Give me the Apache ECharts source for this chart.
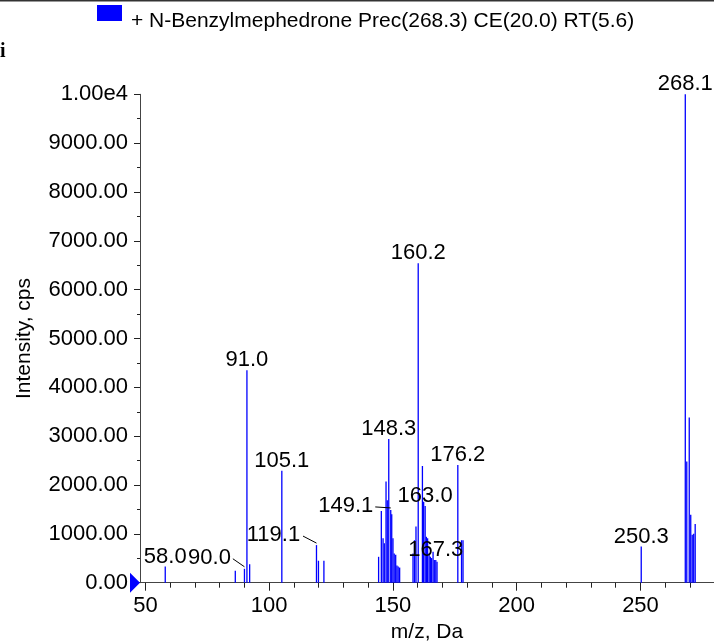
<!DOCTYPE html>
<html>
<head>
<meta charset="utf-8">
<script src="https://cdn.jsdelivr.net/npm/echarts@6/dist/echarts.min.js"></script>
<style>
html,body{margin:0;padding:0;background:#fff;}
#chart{width:714px;height:641px;}
</style>
</head>
<body>
<div id="chart"></div>
<script>
// ---- data ----
const seriesName = '+ N-Benzylmephedrone Prec(268.3) CE(20.0) RT(5.6)';
const peakMz = [
  58.0, 86.3, 90.0, 91.0, 92.1, 105.1, 119.1, 119.9, 122.1,
  144.2, 145.3, 146.0, 146.5, 147.2, 147.7, 148.3, 149.1, 149.5, 150.0, 150.5, 151.1, 151.6, 152.1, 152.7,
  158.1, 158.7, 159.3, 160.2, 161.9, 162.4, 163.0, 163.5, 164.0, 164.6, 165.1, 165.6, 166.2, 166.7, 167.3, 167.8,
  176.2, 177.7, 178.3, 250.3,
  268.1, 268.7, 269.7, 270.3, 270.9, 271.5, 272.1
];
const peakIntensity = [
  330, 245, 285, 4350, 380, 2290, 770, 450, 450,
  530, 1470, 910, 810, 2070, 1690, 2940, 1490, 1400, 910, 600, 570, 350, 330, 310,
  600, 870, 1150, 6540, 2390, 1660, 1570, 940, 910, 600, 530, 505, 635, 465, 465, 430,
  2410, 870, 870, 740,
  10000, 2480, 3380, 1390, 980, 1000, 1200
];
const labelledMz = [58.0, 90.0, 91.0, 105.1, 119.1, 148.3, 149.1, 160.2, 163.0, 167.3, 176.2, 250.3, 268.1];
const xMajorTicks = [50, 100, 150, 200, 250];
const xMinorTicks = [60, 70, 80, 90, 110, 120, 130, 140, 160, 170, 180, 190, 210, 220, 230, 240, 260, 270, 280];
const yMin = 0, yMax = 10000, yStep = 1000;
const xMin = 47.8, xMax = 279.7;

// ---- label layout (styling only) ----
const labelShift = { '90.0': [-35, -1], '119.1': [-43, 0], '149.1': [-45, 6] };
const FONT = '"Liberation Sans", Arial, sans-serif';

const chart = echarts.init(document.getElementById('chart'), null, { renderer: 'canvas' });

const peakData = peakMz.map((m, i) => [m, peakIntensity[i]]);
const labelData = labelledMz.map(m => {
  const i = peakMz.indexOf(m);
  return [m, peakIntensity[i], m.toFixed(1)];
});

function textWidth(t) {
  let w = 0;
  for (const c of t) w += (c === '.') ? 0.278 : 0.556;
  return w * 22;
}

const option = {
  animation: false,
  backgroundColor: '#fff',
  grid: { left: 140, right: 0, top: 94.3, bottom: 58.3, outerBoundsMode: 'none', containLabel: false },
  xAxis: [{
    type: 'value', min: xMin, max: xMax,
    name: 'm/z, Da', nameLocation: 'middle', nameGap: 29,
    nameTextStyle: { fontSize: 21, color: '#000', fontFamily: FONT },
    axisLine: { show: true, lineStyle: { color: '#444', width: 1 } },
    axisTick: { show: true, customValues: xMajorTicks, length: 8, lineStyle: { color: '#222' } },
    axisLabel: { customValues: xMajorTicks, fontSize: 22, color: '#000', fontFamily: FONT, margin: 12 },
    splitLine: { show: false }
  }, {
    type: 'value', min: xMin, max: xMax, position: 'bottom', gridIndex: 0,
    axisLine: { show: false },
    axisTick: { show: true, customValues: xMinorTicks, length: 5, lineStyle: { color: '#222' } },
    axisLabel: { show: false },
    splitLine: { show: false }
  }],
  yAxis: {
    type: 'value', min: yMin, max: yMax, interval: yStep,
    name: 'Intensity, cps', nameLocation: 'middle', nameGap: 105,
    nameTextStyle: { fontSize: 21, color: '#000', fontFamily: FONT },
    axisLine: { show: true, lineStyle: { color: '#444', width: 1 } },
    axisTick: { show: true, length: 6, lineStyle: { color: '#222' } },
    minorTick: { show: true, splitNumber: 2, length: 3, lineStyle: { color: '#222' } },
    axisLabel: {
      fontSize: 22, color: '#000', fontFamily: FONT, margin: 12,
      formatter: v => v === yMax ? '1.00e4' : v.toFixed(2)
    },
    splitLine: { show: false }
  },
  series: [{
    name: seriesName,
    type: 'custom',
    clip: false,
    itemStyle: { color: '#0000ff' },
    data: peakData,
    renderItem: function (params, api) {
      const p0 = api.coord([api.value(0), 0]);
      const p1 = api.coord([api.value(0), api.value(1)]);
      return {
        type: 'line',
        shape: { x1: p0[0], y1: p0[1], x2: p1[0], y2: p1[1] },
        style: { stroke: '#0000ff', lineWidth: 1.3 }
      };
    }
  }, {
    name: 'labels',
    type: 'custom',
    clip: false,
    silent: true,
    data: labelData,
    renderItem: function (params, api) {
      const txt = labelData[params.dataIndex][2];
      const p = api.coord([api.value(0), api.value(1)]);
      const sh = labelShift[txt] || [0, 0];
      const cx = p[0] + sh[0];
      const cy = p[1] - 10 + sh[1];
      const children = [{
        type: 'text',
        style: {
          text: txt, x: cx, y: cy, align: 'center', verticalAlign: 'middle',
          font: '22px ' + FONT, fill: '#000'
        }
      }];
      if (labelShift[txt]) {
        const w = textWidth(txt);
        children.push({
          type: 'line',
          shape: { x1: cx + w / 2 + 2, y1: cy + 1, x2: p[0], y2: p[1] - 2 },
          style: { stroke: '#000', lineWidth: 1 }
        });
      }
      return { type: 'group', children: children };
    }
  }]
};

chart.setOption(option);

// legend swatch + title text, origin marker triangle, top border, cut-off glyph
const o = chart.convertToPixel({ xAxisIndex: 0, yAxisIndex: 0 }, [xMin, 0]);
chart.setOption({
  graphic: [{
    type: 'rect', shape: { x: 97, y: 5, width: 25, height: 16 },
    style: { fill: '#0000ff' }
  }, {
    type: 'text',
    style: { text: seriesName, x: 131, y: 21, verticalAlign: 'middle', font: '21px ' + FONT, fill: '#000' }
  }, {
    type: 'polygon',
    shape: { points: [[o[0] - 10, o[1] - 10], [o[0], o[1]], [o[0] - 10, o[1] + 10]] },
    style: { fill: '#0000ff' }, z: 10
  }, {
    type: 'rect', shape: { x: 0, y: 0, width: 714, height: 1.5 },
    style: { fill: '#333' }
  }, {
    type: 'text', left: 0, top: 42,
    style: { text: 'i', font: 'bold 20px "Liberation Serif", serif', fill: '#000' }
  }]
});
</script>
</body>
</html>
